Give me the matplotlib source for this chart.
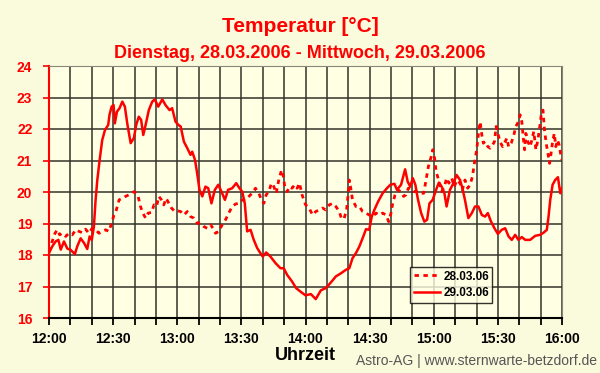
import numpy as np
import matplotlib
matplotlib.use("Agg")
import matplotlib.pyplot as plt

plt.rcParams['font.family'] = ['Liberation Sans', 'DejaVu Sans']

# minutes after 12:00 and temperature in degC, 29.03.06 (solid)
t_29 = [0, 1.5, 3.1, 4.4, 5.5, 7, 8.6, 10, 12.1, 13.2, 14.8, 16.4, 17.9, 19, 20, 21, 21.8, 22.6,
        23.7, 24.9, 26.2, 27.7, 28.3, 29.3, 30.2, 30.8, 31.8, 33, 34.3, 35.5, 36.6, 38.2, 39.7,
        40.8, 42, 43.1, 44.1, 45.2, 46.7, 48.3, 49.5, 51.1, 53, 54.5, 56.4, 57.6, 59.2, 60.7,
        61.6, 63.1, 64.7, 66.2, 67, 68.3, 69.3, 70.4, 71.7, 73.2, 74.5, 76, 77.6, 79.2, 80.7,
        82.3, 83.8, 85.7, 87.6, 89.1, 90.4, 91.6, 92.7, 94.3, 95.8, 97.4, 98.9, 100, 101.6,
        103.6, 106, 108.3, 109.8, 111.4, 113.7, 115.6, 117.6, 120, 122.5, 124.8, 127.2, 129.5,
        131.9, 134.2, 136.6, 138.9, 140.5, 142, 143.6, 145.2, 146.7, 148.3, 149.8, 151, 152.2,
        154, 156.1, 158.1, 159.7, 161.6, 162.8, 164.7, 166.6, 167.8, 169, 170.2, 171.4, 172.5,
        174.1, 175.6, 176.9, 178, 179.5, 181.1, 182.4, 183.7, 185, 186, 187.6, 189.2, 190.7,
        192.3, 193.4, 194.6, 196.2, 197.8, 199.3, 200.9, 202.5, 204, 205.3, 206.8, 208.4, 210,
        211.8, 213.4, 215, 216.5, 218.1, 219.6, 221.2, 222.8, 225.1, 227.5, 229.8, 231.4, 232.9,
        233.7, 234.5, 235.6, 236.8, 238.1, 239.2, 240]
temp_29 = [18.06, 18.27, 18.43, 18.48, 18.17, 18.43, 18.2, 18.17, 18.03, 18.27, 18.53, 18.38, 18.19,
           18.59, 18.48, 18.9, 19.75, 20.38, 21.02, 21.65, 21.97, 22.13, 22.45, 22.71, 22.76, 22.18,
           22.55, 22.66, 22.87, 22.71, 22.18, 21.55, 21.71, 22.13, 22.39, 22.29, 21.81, 22.13, 22.6,
           22.87, 22.94, 22.71, 22.94, 22.76, 22.6, 22.66, 22.23, 22.12,
           22.08, 21.6, 21.39, 21.18, 21.28, 21.02, 20.6, 20.07, 19.86, 20.17, 20.12, 19.64, 20.07,
           20.23, 20.01, 19.75, 20.07, 20.12, 20.28, 20.12, 20.01, 19.64, 18.75, 18.8, 18.48, 18.22,
           18.06, 17.95, 18.08, 17.95, 17.74, 17.58, 17.58, 17.37, 17.16, 16.95, 16.84, 16.72, 16.76,
           16.6, 16.88, 16.95, 17.13, 17.32, 17.42, 17.53, 17.58, 17.9, 18.06, 18.27, 18.53, 18.82,
           18.8, 19.22, 19.43, 19.7, 19.96, 20.12, 20.23, 20.26, 20.07, 20.23, 20.72, 20.33, 20.17,
           20.44, 20.23, 19.8, 19.33, 19.06, 19.12, 19.64, 19.75, 20.07, 20.3, 20.17, 19.96, 19.54,
           20.07, 20.28, 20.54, 20.38, 20.12, 19.75, 19.17, 19.33, 19.54, 19.54, 19.27, 19.22, 19.33,
           19.06, 18.85, 18.67, 18.8, 18.85, 18.59, 18.48, 18.64, 18.48, 18.57, 18.48, 18.48, 18.61,
           18.64, 18.71, 18.8, 19.22, 19.75, 20.23, 20.38, 20.47, 19.96, 20.12]

# minutes after 12:00 and temperature in degC, 28.03.06 (dotted)
t_28 = [0, 1.5, 2.8, 3.9, 5, 6.2, 7.8, 9.3, 10.9, 12.5, 14, 15.6, 17.1, 18.7, 20.2, 21.8, 23.4,
        24.9, 26.5, 28, 29.3, 30.4, 31.5, 32.8, 34.3, 35.8, 37.4, 38.6, 39.7, 40.8, 41.7, 42.8,
        43.9, 45.2, 46.4, 48, 49.1, 50.3, 51.4, 52.6, 53.7, 54.8, 56.1, 57.3, 58.9, 60.2,
        61.6, 63.1, 64.7, 66.2, 67.8, 69.3, 70.9, 72.5, 74, 75.6, 76.7, 77.9, 79.5, 81, 82.6,
        84.1, 85.7, 87.3, 88.8, 90.4, 91.9, 93.5, 95, 96.6, 98.2, 99.4, 100.5, 101.6, 102.8,
        104.1, 105.2, 106.3, 107.5, 108.8, 109.4, 110.3, 111.4, 112.5, 113.7, 115, 116.1, 117.2,
        118.4, 120, 121.7, 123.3, 124.8, 126.4, 128, 129.5, 131.1, 132.7, 134.2, 135.8, 136.9,
        138.1, 139.2, 140, 140.5, 141.3, 142, 143.6, 145.2, 146.7, 148.3, 149.8, 151.4, 153,
        154.5, 156.1, 157.7, 158.9, 160, 160.8, 161.9, 163.1, 164.7, 165.9, 167, 168.1, 169.4,
        170.9, 172.5, 174.1, 175.3, 176.4, 177.5, 178.8, 179.5, 180.3, 181.1, 182.5, 183.7, 185,
        186, 187.1, 188.4, 189.6, 190.9, 192.3, 193.4, 194.6, 195.9, 197, 198.1, 199, 200.1,
        200.9, 201.7, 202.5, 203.2, 204, 205.3, 206.4, 207.5, 208.4, 209.2, 210, 211, 212.2,
        213.1, 214.2, 215, 216.2, 217.3, 218.4, 219.6, 220.4, 221.2, 222, 222.5, 223.1, 224,
        225.1, 225.9, 226.8, 227.8, 228.7, 229.6, 230.3, 231.1, 231.8, 232.6, 233.4, 234.2,
        235, 235.6, 236.4, 237.1, 237.9, 238.7, 239.3, 240]
temp_28 = [18.11, 18.43, 18.69, 18.8, 18.64, 18.69, 18.59, 18.69, 18.64, 18.8, 18.75, 18.71, 18.82,
           18.69, 18.85, 18.8, 18.69, 18.75, 18.8, 18.75, 19.01, 19.27, 19.43, 19.75, 19.8, 19.86,
           19.91, 19.96, 20.01, 19.96, 19.86, 19.54, 19.33, 19.17, 19.33, 19.35, 19.59, 19.54, 19.86,
           19.75, 19.59, 19.8, 19.64, 19.49, 19.38, 19.4,
           19.38, 19.27, 19.38, 19.22, 19.17, 19.01, 19.01, 18.9, 18.85, 18.96, 18.85, 18.69, 18.75,
           18.96, 19.12, 19.33, 19.54, 19.62, 19.64, 19.75, 19.75, 19.86, 19.96, 20.12, 19.96, 19.75,
           19.64, 19.91, 20.01, 20.28, 20.17, 19.96, 20.38, 20.7, 20.6, 20.17, 20.01, 20.17, 20.12,
           20.23, 20.12, 20.28, 19.91, 19.6, 19.49, 19.27, 19.38, 19.43, 19.49, 19.43, 19.59, 19.64,
           19.54, 19.38, 19.14, 19.17, 19.43, 19.96, 20.38, 20.07, 19.75, 19.54, 19.54, 19.38, 19.33,
           19.27, 19.22, 19.33, 19.27, 19.33, 19.27, 19.06, 19.33, 19.64, 19.91, 20.07, 20.01, 19.86,
           19.91, 20.12, 20.12, 20.01, 20.01, 19.96, 19.96, 20.38, 20.81, 21.12, 21.34, 21.12, 20.65,
           20.33, 20.01, 20.17, 20.44, 20.28, 20.44, 20.17, 20.38, 20.28, 20.07, 20.38, 20.12, 20.23,
           20.49, 20.91, 21.34, 21.86, 22.23, 21.81, 21.55, 21.6, 21.44, 21.39, 21.49, 21.6, 22.08,
           21.86, 21.6, 21.44, 21.55, 21.71, 21.44, 21.55, 21.76, 22.08, 22.23, 22.45, 22.23, 21.65,
           21.34, 21.86, 21.6, 21.44, 21.65, 21.92, 21.34, 21.65, 22.08, 22.45, 22.6, 21.97, 21.55,
           21.23, 20.91, 21.28, 21.6, 21.86, 21.44, 21.65, 21.49, 21.23, 21.02]

tick_minutes = [0, 30, 60, 90, 120, 150, 180, 210, 240]
tick_labels = ['12:00', '12:30', '13:00', '13:30', '14:00', '14:30', '15:00', '15:30', '16:00']

red = '#ff0000'
fig = plt.figure(figsize=(6, 3.73), dpi=100, facecolor='#fafadc')
ax = fig.add_axes([49/600, 1-318/373, 513/600, 252/373])
ax.set_facecolor('#ffffe4')

ax.plot(t_28, temp_28, color=red, lw=2, linestyle=(0, (1.6, 1.6)), label='28.03.06')
ax.plot(t_29, temp_29, color=red, lw=1.8, label='29.03.06')

ax.set_xlim(0, 240)
ax.set_ylim(16, 24)
ax.set_xticks(np.arange(0, 241, 10), minor=True)
ax.set_xticks(tick_minutes)
ax.set_xticklabels(tick_labels, fontsize=10, fontweight='bold')
ax.set_yticks(range(16, 25))
ax.set_yticklabels([str(v) for v in range(16, 25)], fontsize=10, fontweight='bold', color=red)
ax.tick_params(axis='x', which='both', length=5, width=1.3, color='black', direction='out', pad=5)
ax.tick_params(axis='y', length=4, width=1.2, color=red, pad=8)

ax.grid(True, which='both', axis='x', color='#33332a', lw=1.1)
ax.grid(True, axis='y', color='#33332a', lw=1.1)
ax.set_axisbelow(True)

ax.spines['left'].set_color(red)
ax.spines['left'].set_linewidth(1.5)
ax.spines['bottom'].set_color('black')
ax.spines['bottom'].set_linewidth(1.5)
ax.spines['top'].set_color('#888877')
ax.spines['right'].set_color('#888877')

ax.set_xlabel('Uhrzeit', fontsize=13, fontweight='bold', labelpad=1)

leg = ax.legend(loc='lower left', bbox_to_anchor=(0.704, 0.06), fontsize=8.5, frameon=True,
                fancybox=False, edgecolor='black', facecolor='#ffffe4', handlelength=2.2,
                borderpad=0.3, labelspacing=0.4, handletextpad=0.3, borderaxespad=0)
leg.get_frame().set_linewidth(1.0)
for txt in leg.get_texts():
    txt.set_fontweight('bold')

fig.text(0.5, 1-27/373, 'Temperatur [°C]', color=red, fontsize=15, fontweight='bold',
         ha='center', va='center')
fig.text(0.5, 1-53/373, 'Dienstag, 28.03.2006 - Mittwoch, 29.03.2006', color=red, fontsize=13,
         fontweight='bold', ha='center', va='center')
fig.text(597/600, 1-361/373, 'Astro-AG | www.sternwarte-betzdorf.de', color='#555555',
         fontsize=10, ha='right', va='center')

fig.savefig('out.png', dpi=100, facecolor=fig.get_facecolor())
